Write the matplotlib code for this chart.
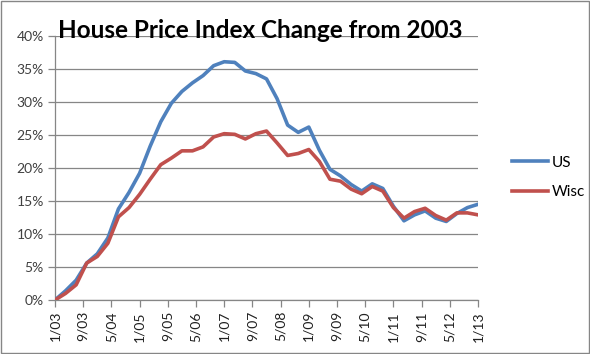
""" house price index change from 2003, US vs Wisconsin
quarterly values read off the chart """

import numpy as np
import matplotlib
matplotlib.use("Agg")
import matplotlib.pyplot as plt
from matplotlib.patches import Rectangle

# quarterly data, 1/03 to 1/13 (percent change from 2003)
us = [0.0, 1.4, 3.0, 5.6, 7.0, 9.4, 13.8, 16.3, 19.2, 23.3,
      27.0, 29.8, 31.6, 32.9, 34.0, 35.5, 36.1, 36.0, 34.7, 34.3,
      33.5, 30.5, 26.5, 25.4, 26.2, 22.7, 19.8, 18.8, 17.5, 16.5,
      17.6, 16.9, 14.2, 12.0, 12.9, 13.5, 12.4, 11.9, 13.1, 14.0,
      14.5]
wisc = [0.0, 1.0, 2.3, 5.6, 6.6, 8.6, 12.6, 14.0, 16.0, 18.3,
        20.5, 21.5, 22.6, 22.6, 23.2, 24.7, 25.2, 25.1, 24.4, 25.2,
        25.6, 23.8, 21.9, 22.2, 22.8, 21.0, 18.3, 18.0, 16.8, 16.1,
        17.2, 16.5, 14.0, 12.4, 13.4, 13.9, 12.8, 12.1, 13.2, 13.2,
        12.9]
tick_labels = ["1/03", "9/03", "5/04", "1/05", "9/05", "5/06", "1/07", "9/07",
               "5/08", "1/09", "9/09", "5/10", "1/11", "9/11", "5/12", "1/13"]
y_ticks = [0, 5, 10, 15, 20, 25, 30, 35, 40]

# months since 1/03
months = np.arange(len(us)) * 3
tick_months = np.arange(len(tick_labels)) * 8

font = "Lato"
grey = "#868686"

fig = plt.figure(figsize=(5.9, 3.54), dpi=100)
ax = fig.add_axes([55 / 590, 1 - 300 / 354, 423 / 590, 264 / 354])

ax.plot(months, us, color="#4F81BD", lw=2.6, label="US", zorder=3,
        solid_joinstyle="round")
ax.plot(months, wisc, color="#C0504D", lw=2.6, label="Wisc", zorder=3,
        solid_joinstyle="round")

ax.set_xlim(0, 120)
ax.set_ylim(0, 40)
ax.set_yticks(y_ticks)
ax.set_yticklabels([str(v) + "%" for v in y_ticks], fontsize=10,
                   family=font, color="#404040")
ax.set_xticks(tick_months)
ax.set_xticklabels(tick_labels, rotation=90, fontsize=10, family=font,
                   color="#202020")

ax.grid(axis="y", color=grey, lw=0.9)
ax.set_axisbelow(True)
for side in ["top", "right"]:
    ax.spines[side].set_visible(False)
for side in ["left", "bottom"]:
    ax.spines[side].set_color(grey)
    ax.spines[side].set_linewidth(0.9)
ax.tick_params(axis="both", direction="out", length=5, color=grey, width=0.9,
               pad=3)

# title sits over the top gridline, like the excel original
fig.text(260 / 590, 1 - 31 / 354, "House Price Index Change from 2003",
         ha="center", va="center", fontsize=17.5, fontweight="bold",
         family=font, color="black", zorder=5)

leg = fig.legend(loc="upper left", bbox_to_anchor=(498 / 590, 1 - 142 / 354),
                 frameon=False, handlelength=2.4,
                 labelspacing=1.0, handletextpad=0.2,
                 prop={"family": font, "size": 11})

# chart border
fig.patches.append(Rectangle((0.001, 0.002), 0.997, 0.996, transform=fig.transFigure,
                             fill=False, edgecolor=grey, lw=1))

fig.savefig("out.png", dpi=100)
